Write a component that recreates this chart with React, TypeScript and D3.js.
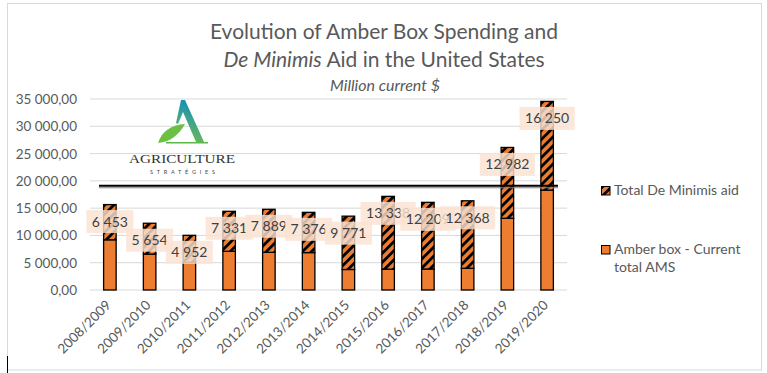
import React, { useEffect, useRef } from "react";
import * as d3 from "d3";

const categories = [
  "2008/2009", "2009/2010", "2010/2011", "2011/2012", "2012/2013", "2013/2014",
  "2014/2015", "2015/2016", "2016/2017", "2017/2018", "2018/2019", "2019/2020",
];
const amberBox = [9200, 6580, 5066, 7090, 6900, 6855, 3760, 3823, 3853, 3980, 13140, 18310];
const deMinimis = [6453, 5654, 4952, 7331, 7889, 7376, 9771, 13338, 12209, 12368, 12982, 16250];
const amsLimit = 19103;
const yTicks = [0, 5000, 10000, 15000, 20000, 25000, 30000, 35000];
const seriesNames = ["Total De Minimis aid", "Amber box - Current total AMS"];

const FONT = "Lato, 'Open Sans', sans-serif";
const ORANGE = "#ED7D31";

export default function App() {
  const ref = useRef<SVGSVGElement>(null);

  useEffect(() => {
    const svg = d3.select(ref.current);
    svg.selectAll("*").remove();
    const W = 767, H = 373;
    const loc = d3.formatLocale({ decimal: ",", thousands: "\u00a0", grouping: [3], currency: ["", "$"] });
    const fTick = loc.format(",.2f");
    const fLab = loc.format(",d");

    const x = d3.scaleBand<string>().domain(categories).range([90, 567]).padding(0);
    const y = d3.scaleLinear().domain([0, 35000]).range([290, 99]);
    const bw = x.step() * 0.315;

    const defs = svg.append("defs");
    const pat = defs.append("pattern").attr("id", "hatch").attr("patternUnits", "userSpaceOnUse")
      .attr("width", 6.4).attr("height", 6.4).attr("patternTransform", "rotate(45)");
    pat.append("rect").attr("width", 6.4).attr("height", 6.4).attr("fill", ORANGE);
    pat.append("rect").attr("width", 2.8).attr("height", 6.4).attr("fill", "#000");
    const lg = defs.append("linearGradient").attr("id", "logoGrad").attr("x1", "0").attr("y1", "1").attr("x2", "0.3").attr("y2", "0");
    lg.append("stop").attr("offset", "0").attr("stop-color", "#7cc242");
    lg.append("stop").attr("offset", "1").attr("stop-color", "#1690b8");

    svg.append("rect").attr("width", W).attr("height", H).attr("fill", "#fff");
    svg.append("rect").attr("x", 7.5).attr("y", 3.5).attr("width", 754).attr("height", 366.5)
      .attr("fill", "none").attr("stroke", "#d9d9d9");
    svg.append("line").attr("x1", 7.5).attr("x2", 7.5).attr("y1", 356).attr("y2", 373)
      .attr("stroke", "#000").attr("stroke-width", 1);

    // title
    const t = svg.append("g").attr("fill", "#595959").attr("font-family", FONT).attr("text-anchor", "middle").attr("font-weight", 400);
    t.append("text").attr("x", 384).attr("y", 39).attr("font-size", 21).text("Evolution of Amber Box Spending and");
    const t2 = t.append("text").attr("x", 384).attr("y", 67).attr("font-size", 21);
    t2.append("tspan").attr("font-style", "italic").text("De Minimis");
    t2.append("tspan").text(" Aid in the United States");
    t.append("text").attr("x", 385).attr("y", 91).attr("font-size", 16).attr("font-style", "italic").text("Million current $");

    // gridlines
    svg.append("g").selectAll("line").data(yTicks).join("line")
      .attr("x1", 90).attr("x2", 567).attr("y1", (d) => y(d)).attr("y2", (d) => y(d))
      .attr("stroke", "#d9d9d9").attr("stroke-width", 1);
    svg.append("g").selectAll("text").data(yTicks).join("text")
      .attr("x", 77).attr("y", (d) => y(d) + 5).attr("text-anchor", "end")
      .attr("font-family", FONT).attr("font-size", 13.5).attr("fill", "#595959").text((d) => fTick(d));

    // logo
    const logo = svg.append("g");
    logo.append("path").attr("d", "M181,100 L185,100 L204,142 L196,142 L183,112 L178,124 L176,123 Z").attr("fill", "url(#logoGrad)");
    logo.append("path").attr("d", "M158,143 C162,131 171,125 185,124 C179,135 170,142 158,143 Z").attr("fill", "#6cbf45");
    logo.append("rect").attr("x", 166).attr("y", 142).attr("width", 42).attr("height", 1.5).attr("fill", "#5cb84a");
    logo.append("text").attr("x", 129).attr("y", 163).attr("font-family", "'Liberation Serif', 'DejaVu Serif', serif")
      .attr("font-size", 13.5).attr("fill", "#333").attr("textLength", 106).attr("lengthAdjust", "spacingAndGlyphs").text("AGRICULTURE");
    logo.append("text").attr("x", 150).attr("y", 174).attr("font-family", FONT)
      .attr("font-size", 5.5).attr("fill", "#444").attr("textLength", 65).attr("lengthAdjust", "spacing").text("STRATÉGIES");

    // bars
    const bars = svg.append("g");
    categories.forEach((c, i) => {
      const x0 = x(c)! + (x.step() - bw) / 2;
      bars.append("rect").attr("x", x0).attr("y", y(amberBox[i])).attr("width", bw)
        .attr("height", y(0) - y(amberBox[i])).attr("fill", ORANGE).attr("stroke", "#000").attr("stroke-width", 1.3);
      bars.append("rect").attr("x", x0).attr("y", y(amberBox[i] + deMinimis[i])).attr("width", bw)
        .attr("height", y(amberBox[i]) - y(amberBox[i] + deMinimis[i])).attr("fill", "url(#hatch)")
        .attr("stroke", "#000").attr("stroke-width", 1.3);
    });

    // limit line
    svg.append("line").attr("x1", 99).attr("x2", 558).attr("y1", y(amsLimit)).attr("y2", y(amsLimit))
      .attr("stroke", "#000").attr("stroke-width", 2);
    svg.append("line").attr("x1", 99).attr("x2", 558).attr("y1", y(amsLimit) + 2).attr("y2", y(amsLimit) + 2)
      .attr("stroke", "#808080").attr("stroke-width", 1);

    // labels
    const labs = svg.append("g").attr("font-family", FONT).attr("font-size", 14);
    categories.forEach((c, i) => {
      const cx = x(c)! + x.step() / 2;
      const cy = y(amberBox[i] + deMinimis[i]) + 17;
      const g = labs.append("g");
      const r = g.append("rect").attr("fill", "#FBE3D3").attr("fill-opacity", 0.82);
      const tx = g.append("text").attr("x", cx).attr("y", cy + 5).attr("text-anchor", "middle")
        .attr("fill", "#404040").text(fLab(deMinimis[i]));
      const bb = (tx.node() as SVGTextElement).getBBox();
      r.attr("x", cx - bb.width / 2 - 5.5).attr("y", cy - 11.5).attr("width", bb.width + 11).attr("height", 23);
    });

    // x labels
    svg.append("g").selectAll("text").data(categories).join("text")
      .attr("transform", (d) => `translate(${x(d)! + x.step() / 2 + 2},${306}) rotate(-45)`)
      .attr("text-anchor", "end").attr("font-family", FONT).attr("font-size", 13.5).attr("fill", "#595959")
      .text((d) => d);

    // legend
    const leg = svg.append("g").attr("font-family", FONT).attr("font-size", 14).attr("fill", "#595959");
    leg.append("rect").attr("x", 601.5).attr("y", 186.5).attr("width", 8.5).attr("height", 8.5).attr("fill", "url(#hatch)").attr("stroke", "#000");
    leg.append("text").attr("x", 614).attr("y", 195).text(seriesNames[0]);
    leg.append("rect").attr("x", 601.5).attr("y", 245.5).attr("width", 8.5).attr("height", 8.5).attr("fill", ORANGE).attr("stroke", "#000");
    leg.append("text").attr("x", 614).attr("y", 254).text("Amber box - Current");
    leg.append("text").attr("x", 614).attr("y", 272).text("total AMS");
  }, []);

  return <svg ref={ref} width={767} height={373} style={{ position: "absolute", left: 0, top: 0 }} />;
}
